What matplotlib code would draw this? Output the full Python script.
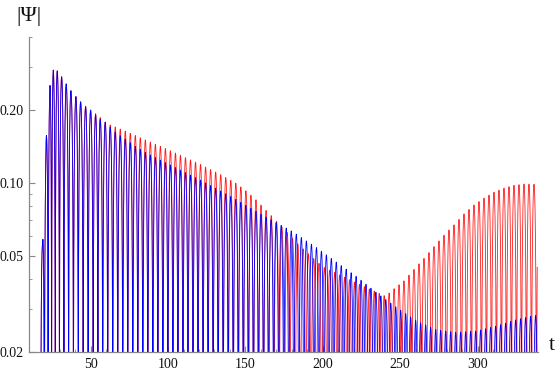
import numpy as np
import matplotlib
matplotlib.use("Agg")
import matplotlib.pyplot as plt
from matplotlib.ticker import FixedLocator, NullFormatter

# ---- data ----
# peak times (t) and running peak index of the oscillation (one index per peak)
blue_peak_t   = [17.68, 18.9, 21.34, 23.73, 25.86, 28.44, 31.28, 34.25, 37.28, 40.51,
                 43.54, 46.77, 50.0, 53.23, 56.2, 59.43, 121.0, 195.9, 250.3, 334.2, 338.5]
blue_peak_idx = [-0.5, 0, 1, 2, 3, 4, 5, 6, 7, 8,
                 9, 10, 11, 12, 13, 14, 33, 56, 73, 99, 100.33]
red_peak_t    = [17.68, 18.9, 21.34, 23.73, 25.86, 28.44, 31.28, 34.25, 37.28, 40.51,
                 43.54, 46.77, 50.0, 53.23, 56.2, 59.43, 121.0, 165.0, 205.0, 252.4, 336.4, 338.5]
red_peak_idx  = [-0.5, 0, 1, 2, 3, 4, 5, 6, 7, 8,
                 9, 10, 11, 12, 13, 14, 33, 46.51, 58.17, 73, 99, 99.65]

# envelope (peak heights of |Psi|)
blue_env_t = [18.9, 21.34, 23.73, 25.86, 28.44, 31.28, 34.25, 37.28, 40.51, 43.54,
              46.77, 50.0, 53.23, 56.2, 59.43, 66.3, 72.8, 79.2, 85.7, 121.0,
              140.8, 163.6, 179.8, 195.9, 208.8, 221.7, 234.6, 247.5, 260.5, 273.4,
              286.3, 299.2, 312.1, 325.0, 336.8]
blue_env_v = [0.0554, 0.155, 0.252, 0.292, 0.290, 0.274, 0.256, 0.240, 0.227, 0.216,
              0.206, 0.199, 0.191, 0.183, 0.178, 0.161, 0.151, 0.141, 0.133, 0.1026,
              0.0876, 0.0720, 0.0632, 0.0540, 0.0470, 0.0410, 0.0352, 0.0306, 0.0269, 0.0247,
              0.0241, 0.0244, 0.0256, 0.0272, 0.0283]
red_env_t = [18.9, 21.34, 23.73, 25.86, 28.44, 31.28, 34.25, 37.28, 40.51, 43.54,
             46.77, 50.0, 53.23, 56.2, 60.3, 72.8, 85.7, 100.0, 121.0, 134.1,
             143.8, 150.5, 156.9, 163.6, 166.9, 185.0, 200.0, 220.0, 240.5, 246.4,
             252.5, 258.9, 265.4, 271.8, 278.3, 284.7, 291.2, 297.6, 304.1, 310.6,
             317.0, 323.5, 329.9, 336.4]
red_env_v = [0.0554, 0.155, 0.252, 0.292, 0.290, 0.274, 0.256, 0.240, 0.227, 0.216,
             0.207, 0.200, 0.193, 0.186, 0.176, 0.163, 0.150, 0.137, 0.119, 0.108,
             0.0996, 0.0925, 0.0850, 0.0766, 0.0729, 0.055, 0.045, 0.039, 0.034, 0.0367,
             0.0394, 0.0439, 0.0488, 0.0545, 0.0608, 0.067, 0.0744, 0.081, 0.0864, 0.0915,
             0.095, 0.0977, 0.0988, 0.0986]

x_ticks = [50, 100, 150, 200, 250, 300]
y_ticks = [0.02, 0.05, 0.10, 0.20]
y_tick_labels = ["0.02", "0.05", "0.10", "0.20"]

# ---- build curves ----
t = np.linspace(17.68, 338.5, 60000)

def curve(pt, pidx, et, ev):
    theta = np.pi * np.interp(t, pt, pidx)
    env = np.exp(np.interp(t, et, np.log(ev)))
    return np.clip(env * np.abs(np.cos(theta)), 1e-5, None)

yb = curve(blue_peak_t, blue_peak_idx, blue_env_t, blue_env_v)
yr = curve(red_peak_t, red_peak_idx, red_env_t, red_env_v)

# ---- figure ----
W, H = 556, 372
fig = plt.figure(figsize=(W / 100, H / 100), dpi=100)
x0, x1, ybot, ytop = 28.7, 538, 352, 37
ax = fig.add_axes([x0 / W, 1 - ybot / H, (x1 - x0) / W, (ybot - ytop) / H])
ax.set_yscale("log")

ax.plot(t, yr, color="#ff1a1a", lw=0.6)
ax.plot(t, yb, color="#0000ff", lw=0.6)

ax.set_xlim(10, 339)
ax.set_ylim(0.02, 0.4)

for s in ["top", "right"]:
    ax.spines[s].set_visible(False)
for s in ["left", "bottom"]:
    ax.spines[s].set_color("#888888")
    ax.spines[s].set_linewidth(0.9)

serif = ["Liberation Serif", "DejaVu Serif"]
ax.xaxis.set_major_locator(FixedLocator(x_ticks))
ax.xaxis.set_minor_locator(FixedLocator([v for v in range(10, 340, 10) if v not in x_ticks]))
ax.set_xticklabels([str(v) for v in x_ticks], family=serif, fontsize=10)
ax.yaxis.set_major_locator(FixedLocator(y_ticks))
ax.yaxis.set_minor_locator(FixedLocator([0.03, 0.04, 0.06, 0.07, 0.08, 0.09, 0.3, 0.4]))
ax.yaxis.set_minor_formatter(NullFormatter())
ax.set_yticklabels(y_tick_labels, family=serif, fontsize=10)
ax.tick_params(which="major", direction="in", length=4, width=0.8, color="#888888",
               labelcolor="#111111", pad=4)
ax.tick_params(which="minor", direction="in", length=2.5, width=0.6, color="#888888")

fig.text(x0 / W, 1 - 17 / H, "|Ψ|", family=serif, fontsize=16, ha="center", va="center",
         color="#111111")
fig.text(552 / W, 1 - 346 / H, "t", family=serif, fontsize=16, ha="center", va="center",
         color="#111111")

fig.savefig("out.png", dpi=100)
